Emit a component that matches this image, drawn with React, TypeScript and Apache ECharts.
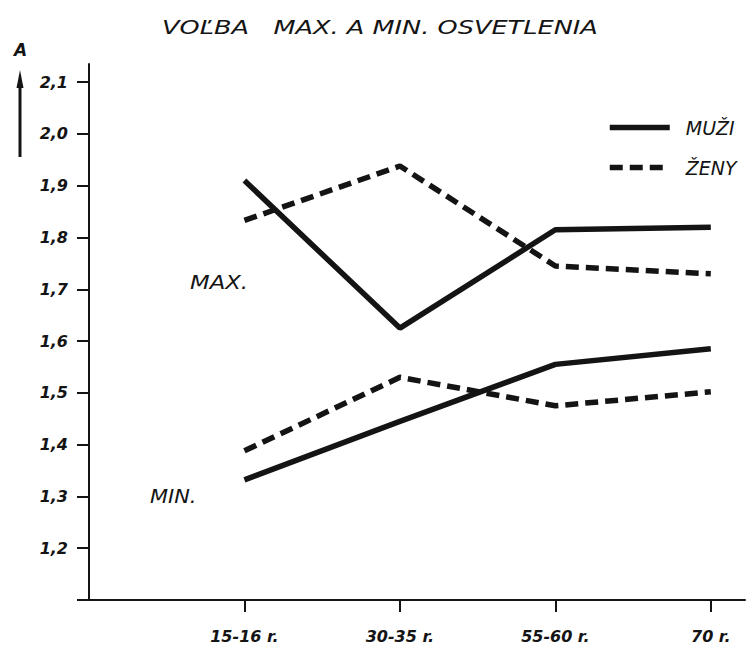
import React, { useEffect, useRef } from "react";
import * as echarts from "echarts";

const categories = ["15-16 r.", "30-35 r.", "55-60 r.", "70 r."];
const muziMax = [1.91, 1.625, 1.815, 1.82];
const zenyMax = [1.833, 1.938, 1.745, 1.73];
const muziMin = [1.332, 1.445, 1.555, 1.585];
const zenyMin = [1.388, 1.53, 1.475, 1.502];
const yTicks = [1.2, 1.3, 1.4, 1.5, 1.6, 1.7, 1.8, 1.9, 2.0, 2.1];
const xTicks = [1, 2, 3, 4];

const FONT = "DejaVu Sans";
const INK = "#141414";

const toPoints = (vals: number[]) => vals.map((v, i) => [i + 1, v]);

export default function App() {
  const ref = useRef<HTMLDivElement>(null);
  useEffect(() => {
    if (!ref.current) return;
    const chart = echarts.init(ref.current, null, { renderer: "svg" });
    const solid = { color: INK, width: 5.5, type: "solid" as const, cap: "butt" as const };
    const dashed = { color: INK, width: 5.5, type: [13, 7] as any, cap: "butt" as const };
    chart.setOption({
      animation: false,
      backgroundColor: "#ffffff",
      legend: {
        data: ["MUŽI", "ŽENY"],
        orient: "vertical",
        left: 602,
        top: 113,
        itemWidth: 60,
        itemHeight: 22,
        itemGap: 21,
        selectedMode: false,
        itemStyle: { opacity: 0 },
        lineStyle: { width: 5.5 },
        textStyle: { fontFamily: FONT, fontStyle: "italic", fontSize: 19, color: INK, padding: [0, 0, 0, 11] },
      },
      grid: { left: 89, right: 3, top: 64, bottom: 53, containLabel: false },
      xAxis: {
        type: "value",
        min: 0,
        max: 4.22,
        axisLine: { show: true, lineStyle: { color: INK, width: 2 } },
        axisTick: { show: true, customValues: xTicks, length: 12, lineStyle: { color: INK, width: 2 } },
        axisLabel: {
          customValues: xTicks,
          margin: 28,
          formatter: (v: number) => categories[Math.round(v) - 1] ?? "",
          fontFamily: FONT,
          fontStyle: "italic",
          fontWeight: "bold",
          fontSize: 16,
          color: INK,
        },
        splitLine: { show: false },
      },
      yAxis: {
        type: "value",
        min: 1.1,
        max: 2.135,
        axisLine: { show: true, onZero: false, lineStyle: { color: INK, width: 2 } },
        axisTick: { show: true, customValues: yTicks, length: 12, lineStyle: { color: INK, width: 2 } },
        axisLabel: {
          customValues: yTicks,
          margin: 21,
          formatter: (v: number) => v.toFixed(1).replace(".", ","),
          fontFamily: FONT,
          fontStyle: "italic",
          fontWeight: "bold",
          fontSize: 16,
          color: INK,
        },
        splitLine: { show: false },
      },
      series: [
        { name: "MUŽI", type: "line", data: toPoints(muziMax), symbol: "none", lineStyle: solid, itemStyle: { color: INK } },
        { name: "ŽENY", type: "line", data: toPoints(zenyMax), symbol: "none", lineStyle: dashed, itemStyle: { color: INK } },
        { name: "MUŽI", type: "line", data: toPoints(muziMin), symbol: "none", lineStyle: solid, itemStyle: { color: INK } },
        { name: "ŽENY", type: "line", data: toPoints(zenyMin), symbol: "none", lineStyle: dashed, itemStyle: { color: INK } },
      ],
      graphic: [
        {
          type: "text",
          x: 162,
          y: 17,
          scaleX: 1.28,
          style: { text: "VOĽBA   MAX. A MIN. OSVETLENIA", font: `italic 20px "${FONT}"`, fill: INK },
        },
        {
          type: "text",
          x: 14,
          y: 41,
          style: { text: "A", font: `italic bold 17px "${FONT}"`, fill: INK },
        },
        {
          type: "line",
          shape: { x1: 20, y1: 82, x2: 20, y2: 157 },
          style: { stroke: INK, lineWidth: 3 },
        },
        {
          type: "polygon",
          shape: { points: [[16.5, 88], [20, 70], [23.5, 88]] },
          style: { fill: INK },
        },
        {
          type: "line",
          shape: { x1: 77, y1: 600, x2: 89, y2: 600 },
          style: { stroke: INK, lineWidth: 2 },
        },
        {
          type: "text",
          x: 190,
          y: 273,
          scaleX: 1.2,
          style: { text: "MAX.", font: `italic 19px "${FONT}"`, fill: INK },
        },
        {
          type: "text",
          x: 150,
          y: 487,
          scaleX: 1.1,
          style: { text: "MIN.", font: `italic 19px "${FONT}"`, fill: INK },
        },
      ],
    });
    return () => chart.dispose();
  }, []);
  return <div ref={ref} style={{ position: "fixed", left: 0, top: 0, width: 748, height: 653 }} />;
}
